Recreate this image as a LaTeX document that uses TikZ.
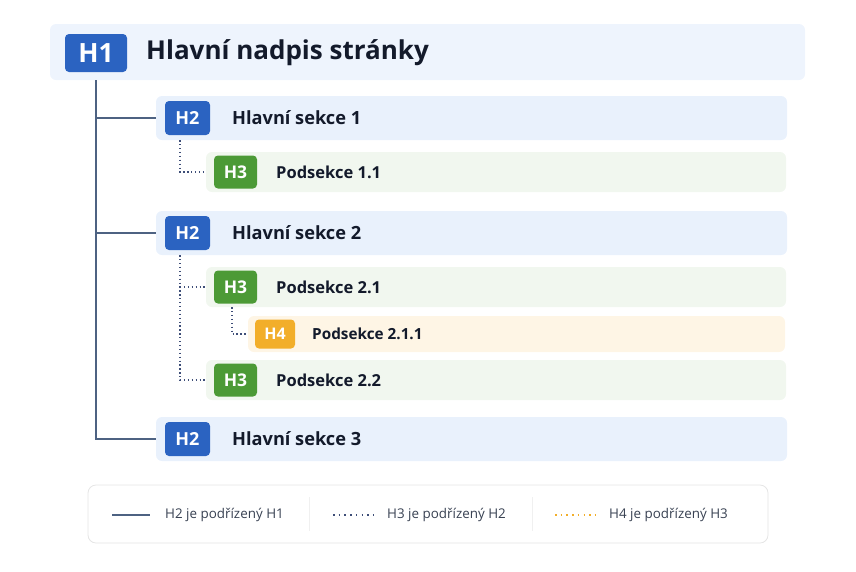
\documentclass[tikz,border=0pt]{standalone}
\usepackage{fontspec}
\setmainfont{Open Sans}
\definecolor{bluebadge}{HTML}{2B63C1}
\definecolor{greenbadge}{HTML}{4C9A36}
\definecolor{orangebadge}{HTML}{F2AE2A}
\definecolor{h1bg}{HTML}{EEF4FD}
\definecolor{h2bg}{HTML}{E9F1FC}
\definecolor{h3bg}{HTML}{F1F7EF}
\definecolor{h4bg}{HTML}{FEF5E5}
\definecolor{txt}{HTML}{131A2B}
\definecolor{solidln}{HTML}{4D6282}
\definecolor{dotln}{HTML}{3E4E78}
\definecolor{legtxt}{HTML}{384152}
\begin{document}
\begin{tikzpicture}[x=1pt,y=-1pt,
  rowbox/.style={rounded corners=6pt,inner sep=0pt,draw=none},
  badge/.style={rounded corners=4pt,inner sep=0pt,text=white},
  lbl/.style={anchor=west,inner sep=0pt,text=txt},
  tree/.style={solidln,line width=1.3pt},
  dots/.style={dotln,line width=1.4pt,dash pattern=on 1.3pt off 2.6pt},
  legdots/.style={dotln,line width=1.5pt,dash pattern=on 1.5pt off 4.2pt},
  odots/.style={orangebadge,line width=1.5pt,dash pattern=on 1.5pt off 4.2pt},
  legtext/.style={anchor=west,inner sep=0pt,text=legtxt,font=\fontsize{13.4}{15}\selectfont}
]
\useasboundingbox (0,0) rectangle (856,571);
% H1
\node[rowbox,fill=h1bg,minimum width=755,minimum height=56] (r1) at (427.5,52) {};
\node[badge,fill=bluebadge,minimum width=62,minimum height=38,font=\fontsize{26.5}{30}\selectfont\bfseries] (b1) at (96,53) {H1};
\node[lbl,font=\fontsize{26}{30}\selectfont\bfseries] (t1) at (146,53) {Hlavní nadpis stránky};
% H2 rows
\foreach \n/\y/\t in {21/118/Hlavní sekce 1,22/233/Hlavní sekce 2,23/439/Hlavní sekce 3}{
  \node[rowbox,fill=h2bg,minimum width=631,minimum height=44] (r\n) at (471.5,\y) {};
  \node[badge,fill=bluebadge,minimum width=45,minimum height=34,font=\fontsize{18}{20}\selectfont\bfseries] (b\n) at (187.5,\y) {H2};
  \node[lbl,font=\fontsize{18.2}{21}\selectfont\bfseries] (t\n) at (232,\y) {\t};
}
% H3 rows
\foreach \n/\y/\t in {31/172/Podsekce 1.1,32/287/Podsekce 2.1,33/380/Podsekce 2.2}{
  \node[rowbox,fill=h3bg,minimum width=580,minimum height=40] (r\n) at (496,\y) {};
  \node[badge,fill=greenbadge,minimum width=43,minimum height=33,font=\fontsize{17.5}{19}\selectfont\bfseries] (b\n) at (235.5,\y) {H3};
  \node[lbl,font=\fontsize{16.5}{19}\selectfont\bfseries] (t\n) at (276,\y) {\t};
}
% H4 row
\node[rowbox,fill=h4bg,minimum width=537,minimum height=36] (r41) at (516.5,334) {};
\node[badge,fill=orangebadge,minimum width=40,minimum height=29,font=\fontsize{16}{18}\selectfont\bfseries] (b41) at (275,334) {H4};
\node[lbl,font=\fontsize{15.3}{17}\selectfont\bfseries] (t41) at (312,334) {Podsekce 2.1.1};
% connectors H1 -> H2
\coordinate (c1) at (b1.center |- r1.south);
\draw[tree] (c1) |- (r23.west);
\draw[tree] (c1 |- r21) -- (r21.west);
\draw[tree] (c1 |- r22) -- (r22.west);
% H2 -> H3
\coordinate (c2) at (180,0);
\draw[dots] (c2 |- r21.south) |- (r31.west);
\draw[dots] (c2 |- r22.south) |- (r33.west);
\draw[dots] (c2 |- r32) -- (r32.west);
% H3 -> H4
\coordinate (c3) at (232,0);
\draw[dots] (c3 |- r32.south) |- (r41.west);
% legend
\node[draw=black!10,line width=0.8pt,fill=white,rounded corners=8pt,minimum width=680,minimum height=58,inner sep=0pt] (leg) at (428,514) {};
\draw[black!6,line width=0.8pt] (309,497) -- (309,531);
\draw[black!6,line width=0.8pt] (532,497) -- (532,531);
\coordinate (l1a) at (112,515); \coordinate (l1b) at (150,515);
\draw[tree] (l1a) -- (l1b);
\node[legtext] (lt1) at (165,515) {H2 je podřízený H1};
\coordinate (l2a) at (333,515); \coordinate (l2b) at (373,515);
\draw[legdots] (l2a) -- (l2b);
\node[legtext] (lt2) at (387,515) {H3 je podřízený H2};
\coordinate (l3a) at (555,515); \coordinate (l3b) at (595,515);
\draw[odots] (l3a) -- (l3b);
\node[legtext] (lt3) at (609,515) {H4 je podřízený H3};
\end{tikzpicture}
\end{document}
